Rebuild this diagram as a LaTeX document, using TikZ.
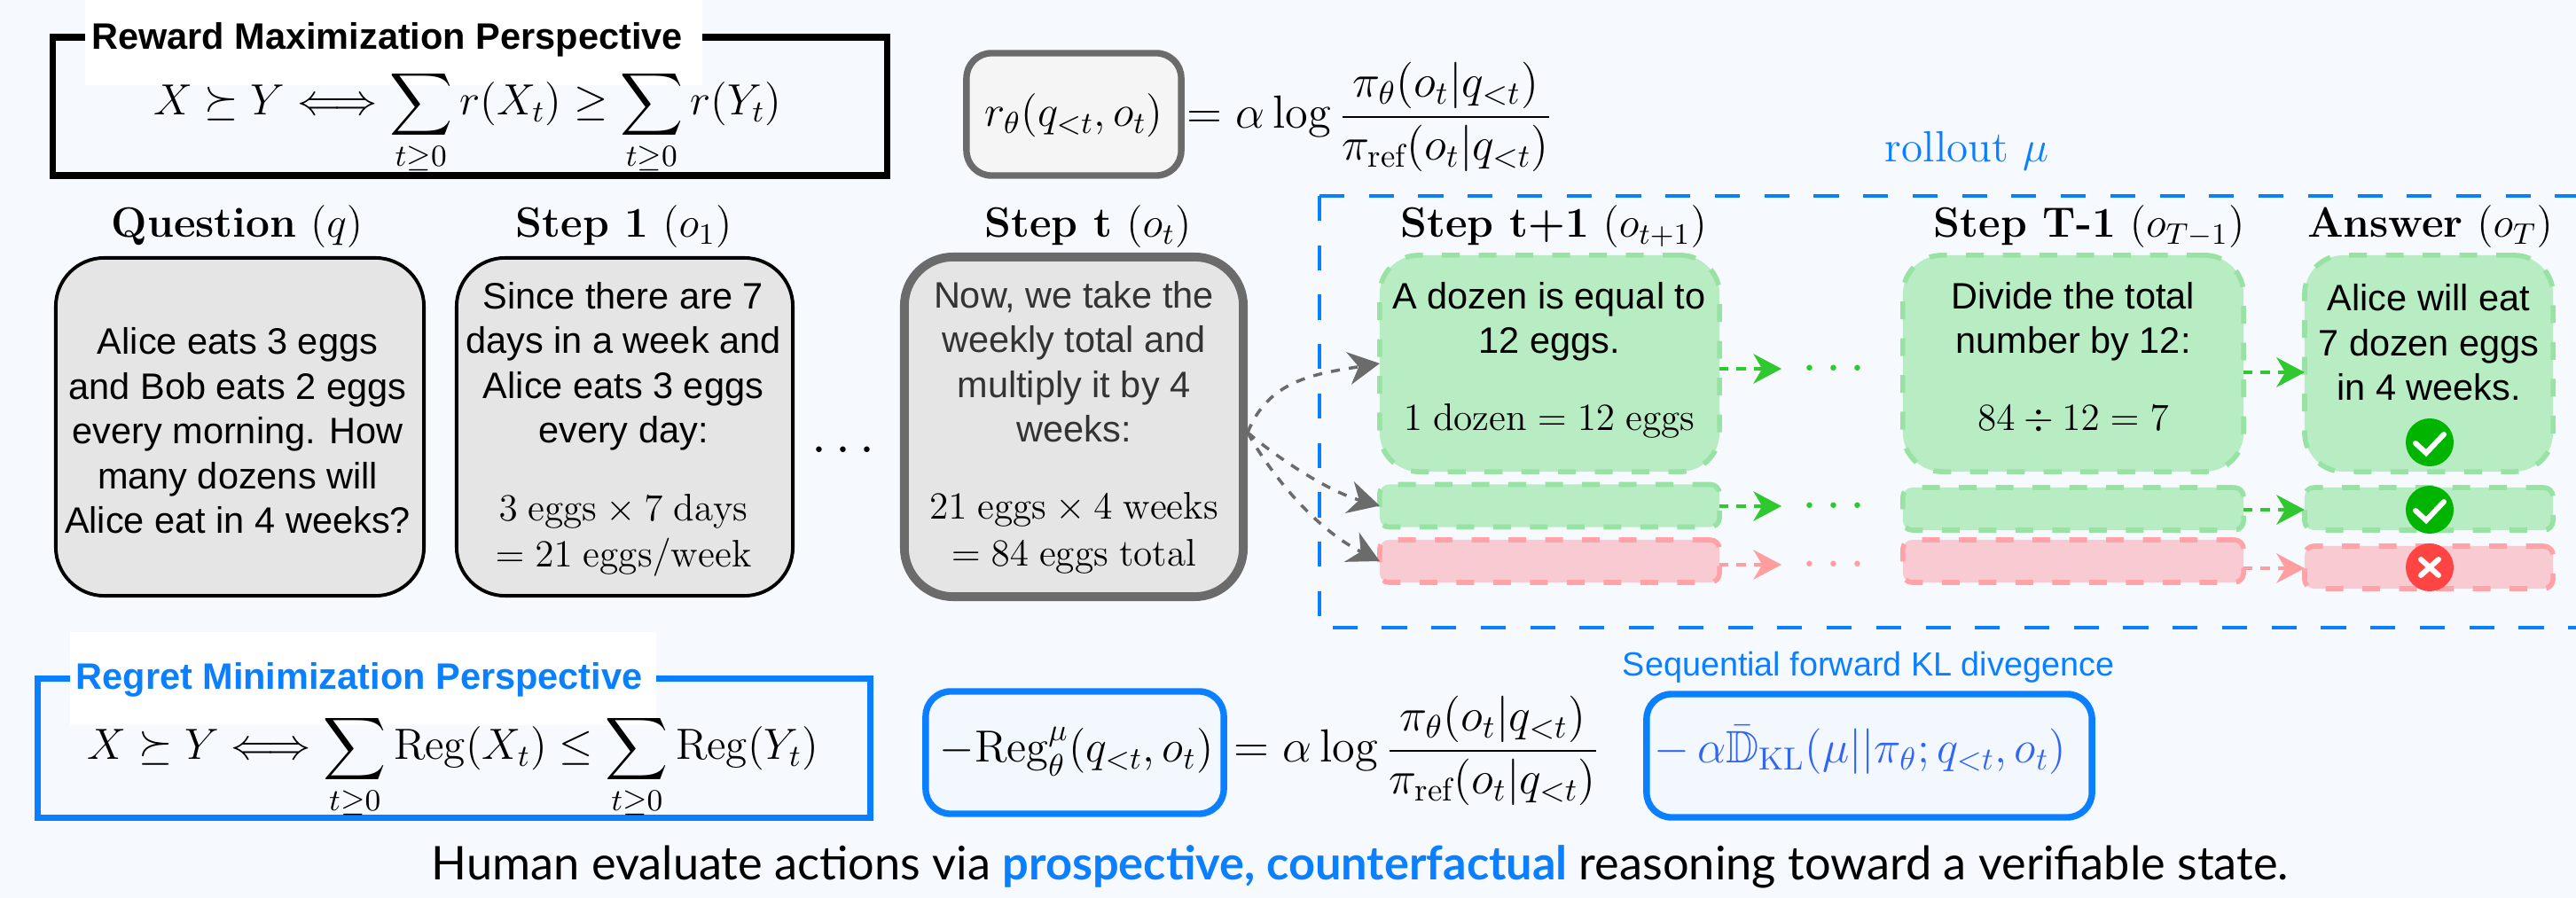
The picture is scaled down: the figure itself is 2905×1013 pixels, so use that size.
\documentclass[tikz,border=0pt]{standalone}
\usepackage{amsmath,amssymb}
\usepackage{fix-cm}
\usepackage{fontspec}
\setsansfont{Liberation Sans}
\newfontfamily\handfont{Lato}
\usetikzlibrary{arrows.meta}
\definecolor{pagebg}{RGB}{246,250,255}
\definecolor{blueline}{RGB}{10,127,255}
\definecolor{bluemath}{RGB}{50,100,245}
\definecolor{bluefill}{RGB}{243,247,254}
\definecolor{stepgrey}{RGB}{229,229,229}
\definecolor{stepline}{RGB}{107,107,107}
\definecolor{softgrey}{RGB}{245,245,245}
\definecolor{textgrey}{RGB}{51,51,51}
\definecolor{okfill}{RGB}{184,236,194}
\definecolor{okline}{RGB}{152,227,163}
\definecolor{okarrow}{RGB}{47,201,47}
\definecolor{okmark}{RGB}{0,180,0}
\definecolor{badfill}{RGB}{247,203,209}
\definecolor{badline}{RGB}{255,163,168}
\definecolor{badarrow}{RGB}{255,158,158}
\definecolor{badmark}{RGB}{255,68,68}
\newcommand{\mathline}[1]{{\fontsize{12.3}{14.4}\selectfont$#1$}}
\tikzset{
  panel/.style={rectangle, inner sep=0pt, outer sep=0pt},
  frame/.style={panel, line width=2.1pt},
  soft/.style={panel, rounded corners=8pt, line width=2.1pt},
  stepbox/.style={panel, rounded corners=15.6pt, draw=black, fill=stepgrey, line width=1.1pt},
  okbox/.style={panel, draw=okline, fill=okfill, line width=1.6pt, dash pattern=on 5.7pt off 6.1pt},
  badbox/.style={okbox, draw=badline, fill=badfill},
  bigcard/.style={rounded corners=12.5pt, minimum height=2.44cm},
  rowcard/.style={rounded corners=3pt, minimum height=.48cm},
  backing/.style={panel, fill=white},
  heading/.style={font=\sffamily\bfseries\fontsize{11.8}{14.4}\selectfont, inner sep=0pt, anchor=base},
  title/.style={font=\fontsize{13.6}{16}\selectfont, inner sep=0pt, anchor=base},
  steptxt/.style={font=\sffamily\fontsize{11.8}{14.37}\selectfont, align=center, inner sep=0pt, anchor=base},
  eqn/.style={font=\fontsize{14}{17}\selectfont, inner sep=0pt, anchor=base},
  wideeqn/.style={eqn, font=\fontsize{14.9}{18}\selectfont},
  dotrow/.style={font=\fontsize{17.3}{20}\selectfont, inner sep=0pt, anchor=base},
  rollarr/.style={draw=stepline, line width=1pt, dash pattern=on 2.9pt off 2.9pt, -{Stealth[length=10pt,width=10.5pt,inset=3.2pt]}},
  okarr/.style={draw=okarrow, line width=1.1pt, dash pattern=on 2.9pt off 2.6pt, -{Stealth[length=9pt,width=9.5pt,inset=2.8pt]}},
  badarr/.style={okarr, draw=badarrow},
  verdict/.style={circle, inner sep=0pt, outer sep=0pt, minimum size=.54cm},
  glyph/.style={draw=white, line width=1.7pt, line cap=round, line join=miter},
}
\begin{document}
\begin{tikzpicture}[x=0.01cm,y=-0.01cm]
  \path[use as bounding box, fill=pagebg] (0,0) rectangle (2905,1013);
  % reward perspective
  \node[frame, draw=black, minimum width=9.4cm, minimum height=1.56cm] (rewardbox) at (530,120) {};
  \node[backing, minimum width=6.96cm, minimum height=.96cm] (rewardback) at (444,48) {};
  \node[heading] (rewardhead) at (436.5,56) {Reward Maximization Perspective};
  \node[eqn] (rewardeq) at (527.5,130) {$\displaystyle X\succeq Y\Longleftrightarrow\sum_{t\geq 0}r(X_t)\geq\sum_{t\geq 0}r(Y_t)$};
  \node[soft, draw=stepline, fill=softgrey, minimum width=2.42cm, minimum height=1.38cm] (rbox) at (1211,129) {};
  \node[eqn] (req) at (1211,143) {$r_\theta(q_{<t},o_t)$};
  \node[wideeqn] (rfrac) at (1545,145) {$\displaystyle =\alpha\log\frac{\pi_\theta(o_t|q_{<t})}{\pi_{\mathrm{ref}}(o_t|q_{<t})}$};
  % rollout frame
  \coordinate (rolltl) at (1488,221);
  \coordinate (rolltr) at (2905,221);
  \coordinate (rollbl) at (1488,708);
  \coordinate (rollbr) at (2905,708);
  \draw[blueline, line width=1.1pt, dash pattern=on 8pt off 7.85pt] (rolltl) -- (rolltr);
  \draw[blueline, line width=1.1pt, dash pattern=on 8pt off 7.85pt] (rolltl) -- (rollbl) -- (rollbr);
  \node[eqn, text=blueline] (rolllabel) at (2218,183) {rollout $\mu$};
  % step titles
  \foreach \x/\n/\t in {267.5/qtitle/{\textbf{Question} $(q)$},703.5/otitle/{\textbf{Step 1} $(o_1)$},1227/ttitle/{\textbf{Step t} $(o_t)$},1752/ntitle/{\textbf{Step t+1} $(o_{t+1})$},2356/ltitle/{\textbf{Step T-1} $(o_{T-1})$},2740.5/atitle/{\textbf{Answer} $(o_T)$}}{
    \node[title] (\n) at (\x,268) {\t};
  }
  % answered steps
  \node[stepbox, minimum width=4.15cm, minimum height=3.81cm] (qbox) at (270.5,481.5) {};
  \node[steptxt] (qtxt) at (268,602) {Alice eats 3 eggs\\and Bob eats 2 eggs\\every morning. How\\many dozens will\\Alice eat in 4 weeks?};
  \node[stepbox, minimum width=3.79cm, minimum height=3.81cm] (obox) at (704.5,481.5) {};
  \node[steptxt] (otxt) at (703,640) {Since there are 7\\days in a week and\\Alice eats 3 eggs\\every day:\\[10.4pt]\mathline{3\ \mathrm{eggs}\times 7\ \mathrm{days}}\\[.7pt]\mathline{=21\ \mathrm{eggs/week}}};
  \node[dotrow] (middots) at (956,523) {$\cdots$};
  \node[stepbox, draw=stepline, line width=2.8pt, minimum width=3.82cm, minimum height=3.83cm] (tbox) at (1211,481.5) {};
  \node[steptxt, text=textgrey] (ttxt) at (1211,639) {Now, we take the\\weekly total and\\multiply it by 4\\weeks:\\[10.4pt]{\color{black}\mathline{21\ \mathrm{eggs}\times 4\ \mathrm{weeks}}}\\[.7pt]{\color{black}\mathline{=84\ \mathrm{eggs\ total}}}};
  % rollout cards
  \node[okbox, bigcard, minimum width=3.83cm] (nexta) at (1747.5,410) {};
  \node[okbox, rowcard, minimum width=3.83cm] (nextb) at (1747.5,570.5) {};
  \node[badbox, rowcard, minimum width=3.83cm] (nextc) at (1747.5,633) {};
  \node[okbox, bigcard, minimum width=3.84cm] (lasta) at (2338,410) {};
  \node[okbox, rowcard, minimum width=3.84cm] (lastb) at (2338,574) {};
  \node[badbox, rowcard, minimum width=3.84cm] (lastc) at (2338,633) {};
  \node[okbox, bigcard, minimum width=2.8cm] (ansa) at (2739,410) {};
  \node[okbox, rowcard, minimum width=2.8cm] (ansb) at (2739,574) {};
  \node[badbox, rowcard, minimum width=2.8cm] (ansc) at (2739,640) {};
  \node[steptxt] (nexttxt) at (1747,486) {A dozen is equal to\\12 eggs.\\[10.4pt]\mathline{1\ \mathrm{dozen}=12\ \mathrm{eggs}}};
  \node[steptxt] (lasttxt) at (2338,486) {Divide the total\\number by 12:\\[10.4pt]\mathline{84\div 12=7}};
  \node[steptxt] (anstxt) at (2739,452) {Alice will eat\\7 dozen eggs\\in 4 weeks.};
  % branches out of step t
  \coordinate (fan) at (1407,488);
  \draw[rollarr] (fan) .. controls (1430,430) and (1480,422) .. (nexta.west);
  \draw[rollarr] (fan) .. controls (1445,520) and (1500,555) .. (nextb.west);
  \draw[rollarr] (fan) .. controls (1430,530) and (1480,595) .. (nextc.west);
  % rollout arrows
  \foreach \k/\ya/\yb/\st/\c in {a/416/420/okarr/okarrow,b/571/575/okarr/okarrow,c/637/641/badarr/badarrow}{
    \coordinate (tip\k) at (2009,\ya);
    \draw[\st] (next\k.east |- tip\k) -- (tip\k);
    \node[dotrow, text=\c] (dots\k) at (2073,\ya+15) {$\cdots$};
    \draw[\st] (last\k.east |- 0,\yb) -- (ans\k.west |- 0,\yb);
  }
  % verdict marks
  \foreach \n/\y in {marka/499,markb/575}{
    \node[verdict, fill=okmark] (\n) at (2740,\y) {};
    \draw[glyph] ([shift={(-16,1)}]\n.center) -- ([shift={(-4,12)}]\n.center) -- ([shift={(16,-9)}]\n.center);
  }
  \node[verdict, fill=badmark] (markc) at (2740,640) {};
  \draw[glyph] ([shift={(-10,-9)}]markc.center) -- ([shift={(10,9)}]markc.center);
  \draw[glyph] ([shift={(10,-9)}]markc.center) -- ([shift={(-10,9)}]markc.center);
  % regret perspective
  \node[frame, draw=blueline, minimum width=9.38cm, minimum height=1.57cm] (regretbox) at (512,844) {};
  \node[backing, minimum width=6.61cm, minimum height=1.05cm] (regretback) at (409.5,765.5) {};
  \node[heading, text=blueline] (regrethead) at (405,778) {Regret Minimization Perspective};
  \node[eqn] (regreteq) at (511,857) {$\displaystyle X\succeq Y\Longleftrightarrow\sum_{t\geq 0}\mathrm{Reg}(X_t)\leq\sum_{t\geq 0}\mathrm{Reg}(Y_t)$};
  \node[soft, draw=blueline, fill=bluefill, minimum width=3.36cm, minimum height=1.38cm] (regbox) at (1212,849) {};
  \node[eqn, font=\fontsize{14.4}{17}\selectfont] (regeq) at (1214,860) {$-\mathrm{Reg}_\theta^\mu(q_{<t},o_t)$};
  \node[wideeqn] (regfrac) at (1598,860) {$\displaystyle =\alpha\log\frac{\pi_\theta(o_t|q_{<t})}{\pi_{\mathrm{ref}}(o_t|q_{<t})}$};
  \node[soft, draw=blueline, fill=bluefill, minimum width=5.02cm, minimum height=1.39cm] (klbox) at (2108,852.5) {};
  \node[eqn, font=\fontsize{14.6}{17}\selectfont, text=bluemath] (kleq) at (2098,861) {$-\,\alpha\bar{\mathbb{D}}_{\mathrm{KL}}(\mu||\pi_\theta;q_{<t},o_t)$};
  \node[heading, font=\sffamily\fontsize{10.74}{13}\selectfont, text=blueline] (kllabel) at (2107,763) {Sequential forward KL divegence};
  % closing line
  \node[inner sep=0pt, anchor=base, font=\handfont\fontsize{14.88}{18}\selectfont] (closing) at (1534,992) {Human evaluate actions via {\bfseries\color{blueline}prospective, counterfactual} reasoning toward a verifiable state.};
\end{tikzpicture}
\end{document}
